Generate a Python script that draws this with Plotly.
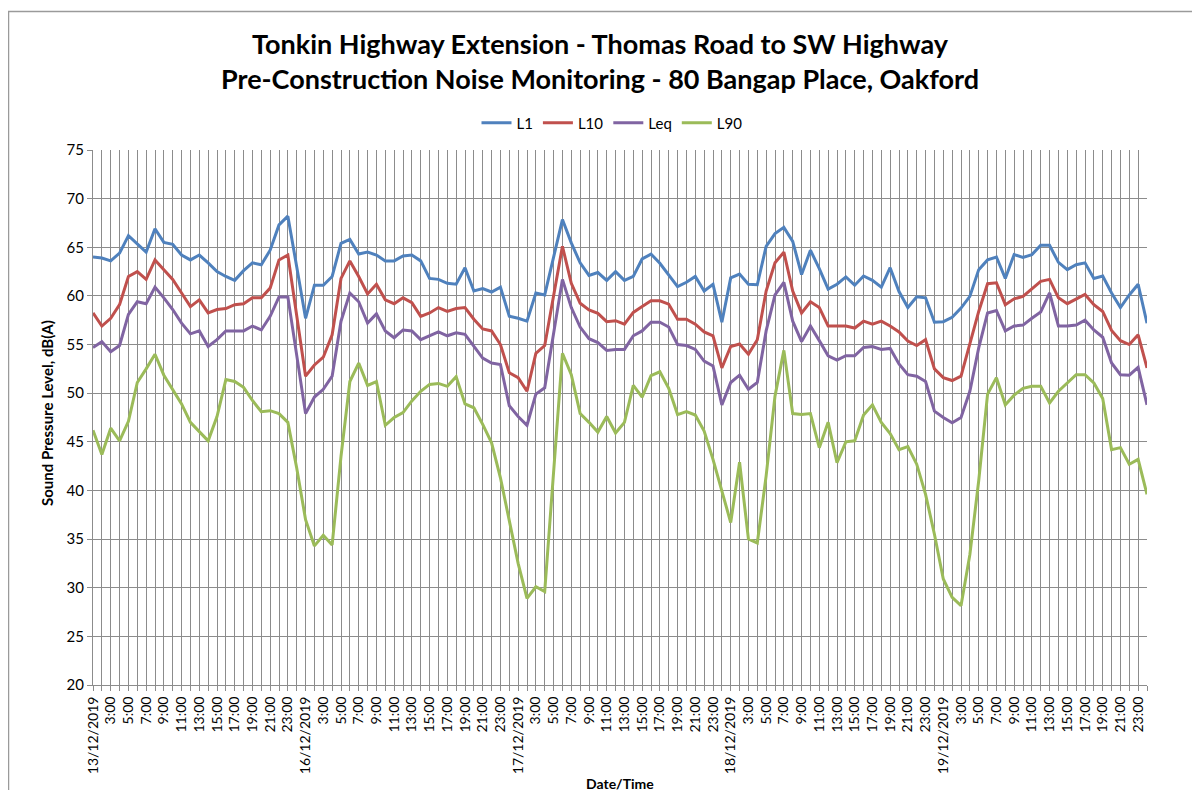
import plotly.graph_objects as go

DAYS = ["13/12/2019", "16/12/2019", "17/12/2019", "18/12/2019", "19/12/2019"]
HOURS = [f"{h}:00" for h in range(1, 24)] + ["0:00"]

L1 = [64.0, 63.9, 63.6, 64.4, 66.2, 65.4, 64.5, 66.9, 65.5, 65.3,
      64.2, 63.7, 64.2, 63.4, 62.5, 62.0, 61.6, 62.6, 63.4, 63.2,
      64.7, 67.3, 68.2, 63.0, 57.7, 61.1, 61.1, 62.0, 65.4, 65.8,
      64.3, 64.5, 64.2, 63.6, 63.6, 64.1, 64.2, 63.6, 61.8, 61.7,
      61.3, 61.2, 62.9, 60.5, 60.75, 60.4, 60.9, 57.9, 57.7, 57.4,
      60.3, 60.1, 64.1, 67.85, 65.45, 63.4, 62.1, 62.4, 61.6, 62.5,
      61.6, 62.0, 63.8, 64.3, 63.35, 62.1, 60.95, 61.4, 62.0, 60.5,
      61.2, 57.3, 61.85, 62.25, 61.2, 61.15, 65.1, 66.4, 67.05, 65.6,
      62.2, 64.7, 62.8, 60.7, 61.2, 61.95, 61.1, 62.05, 61.6, 60.9,
      62.9, 60.45, 58.8, 59.9, 59.8, 57.3, 57.35, 57.8, 58.75, 59.95,
      62.7, 63.7, 64.0, 61.8, 64.25, 63.95, 64.25, 65.2, 65.2, 63.45,
      62.7, 63.2, 63.4, 61.8, 62.05, 60.3, 58.8, 60.1, 61.2, 57.2]

L10 = [58.25, 56.9, 57.7, 59.1, 62.0, 62.5, 61.7, 63.7, 62.7, 61.7,
       60.3, 58.9, 59.6, 58.25, 58.6, 58.7, 59.1, 59.2, 59.8, 59.8,
       60.8, 63.7, 64.2, 58.0, 51.75, 52.9, 53.7, 56.0, 61.8, 63.6,
       62.0, 60.2, 61.2, 59.6, 59.2, 59.8, 59.3, 57.9, 58.25, 58.8,
       58.4, 58.7, 58.8, 57.6, 56.6, 56.4, 55.0, 52.1, 51.6, 50.2,
       54.1, 54.9, 59.8, 65.1, 61.3, 59.25, 58.55, 58.2, 57.35, 57.45,
       57.1, 58.3, 58.9, 59.5, 59.5, 59.15, 57.6, 57.6, 57.1, 56.3,
       55.9, 52.6, 54.8, 55.05, 54.0, 55.5, 60.5, 63.4, 64.5, 60.5,
       58.25, 59.4, 58.8, 56.9, 56.9, 56.9, 56.7, 57.4, 57.1, 57.4,
       56.9, 56.3, 55.35, 54.9, 55.5, 52.5, 51.6, 51.3, 51.75, 55.1,
       58.4, 61.25, 61.35, 59.1, 59.7, 59.95, 60.75, 61.5, 61.7, 59.8,
       59.2, 59.7, 60.15, 59.1, 58.4, 56.45, 55.4, 55.0, 56.0, 52.6]

LEQ = [54.7, 55.3, 54.25, 54.9, 58.1, 59.4, 59.2, 60.9, 59.8, 58.6,
       57.2, 56.1, 56.4, 54.8, 55.5, 56.4, 56.4, 56.4, 56.9, 56.5,
       57.9, 59.9, 59.9, 53.9, 47.9, 49.6, 50.4, 51.75, 57.4, 60.3,
       59.4, 57.2, 58.15, 56.4, 55.7, 56.5, 56.4, 55.5, 55.9, 56.3,
       55.9, 56.2, 56.05, 54.8, 53.6, 53.1, 52.95, 48.7, 47.6, 46.7,
       49.9, 50.55, 56.0, 61.7, 58.8, 56.8, 55.6, 55.2, 54.4, 54.5,
       54.5, 55.9, 56.4, 57.3, 57.3, 56.8, 55.0, 54.9, 54.5, 53.3,
       52.8, 48.8, 51.1, 51.85, 50.4, 51.1, 56.4, 60.1, 61.4, 57.4,
       55.3, 56.9, 55.4, 53.85, 53.4, 53.85, 53.85, 54.7, 54.8, 54.5,
       54.6, 53.0, 51.9, 51.75, 51.2, 48.15, 47.5, 46.95, 47.5, 50.2,
       54.65, 58.25, 58.5, 56.4, 56.9, 57.0, 57.7, 58.35, 60.3, 56.9,
       56.9, 57.0, 57.5, 56.5, 55.75, 53.1, 51.9, 51.85, 52.65, 48.8]

L90 = [46.2, 43.7, 46.4, 45.1, 47.1, 51.1, 52.5, 54.0, 51.85, 50.4,
       48.9, 47.0, 46.1, 45.1, 47.6, 51.4, 51.2, 50.6, 49.25, 48.1,
       48.2, 47.9, 47.0, 42.3, 37.0, 34.3, 35.4, 34.4, 43.5, 51.2,
       53.1, 50.8, 51.2, 46.7, 47.5, 48.0, 49.2, 50.2, 50.9, 51.0,
       50.7, 51.7, 48.9, 48.5, 46.8, 44.9, 41.3, 36.8, 32.5, 28.9,
       30.1, 29.6, 42.0, 54.1, 51.9, 47.9, 47.0, 46.0, 47.6, 45.9,
       47.0, 50.8, 49.6, 51.8, 52.2, 50.5, 47.8, 48.1, 47.75, 46.1,
       43.2, 39.8, 36.7, 42.9, 35.0, 34.6, 41.5, 49.7, 54.4, 47.9,
       47.8, 47.9, 44.4, 47.0, 42.85, 45.0, 45.1, 47.75, 48.8, 47.0,
       45.85, 44.2, 44.5, 42.7, 39.6, 35.5, 30.9, 29.0, 28.15, 33.4,
       41.0, 49.9, 51.6, 48.8, 49.8, 50.5, 50.7, 50.7, 49.0, 50.2,
       51.1, 51.9, 51.9, 51.05, 49.45, 44.2, 44.4, 42.7, 43.2, 39.6]

SERIES = [("L1", L1, "#4F81BD"), ("L10", L10, "#C0504D"),
          ("Leq", LEQ, "#8064A2"), ("L90", L90, "#9BBB59")]

# categories: one per hour; the first hour of each day is labelled with the date
CATS = [f"{d} {h}" for d in DAYS for h in HOURS]
TICKTEXT = []
for d in DAYS:
    for i, h in enumerate(HOURS):
        if i == 0:
            TICKTEXT.append(d)
        elif i % 2 == 0:
            TICKTEXT.append(h)
        else:
            TICKTEXT.append("")

FONT = "Lato, 'Open Sans', sans-serif"
GRID = "#8c8c8c"

fig = go.Figure()
for name, vals, col in SERIES:
    fig.add_trace(go.Scatter(x=CATS, y=vals, name=name, mode="lines",
                             line=dict(color=col, width=3)))

OFF = 8  # page offset of the figure inside the browser window
L, R, T, B = 93 - OFF, 1147 - OFF, 150 - OFF, 685 - OFF
W, H = 1200, 790
pw, ph = R - L, B - T

def px(x):
    return (x - OFF - L) / pw

def py(y):
    return (B - (y - OFF)) / ph

fig.update_layout(
    width=W, height=H,
    margin=dict(l=L, r=W - R, t=T, b=H - B, pad=0),
    paper_bgcolor="white", plot_bgcolor="white",
    font=dict(family=FONT, color="#000000", size=14),
    title=dict(text="<b>Tonkin Highway Extension - Thomas Road to SW Highway<br>"
                    "Pre-Construction Noise Monitoring - 80 Bangap Place, Oakford</b>",
               x=(600 - OFF) / W, xanchor="center", xref="container",
               y=1 - 46 / H, yanchor="top", yref="container",
               font=dict(size=27, family=FONT, color="#000000")),
    legend=dict(orientation="h", x=px(612), xanchor="center",
                y=py(123), yanchor="middle",
                font=dict(size=15, family=FONT), itemwidth=30,
                bgcolor="rgba(0,0,0,0)"),
    showlegend=True,
)

fig.update_xaxes(
    type="category", tickmode="array", tickvals=CATS, ticktext=TICKTEXT,
    tickangle=-90, tickfont=dict(size=14, family=FONT),
    range=[0, len(CATS) - 1],
    showgrid=True, gridcolor=GRID, gridwidth=1,
    ticks="outside", ticklen=5, tickcolor=GRID,
    showline=True, linecolor=GRID, linewidth=1, mirror=False,
    zeroline=False,
)
fig.update_yaxes(
    range=[20, 75], dtick=5, tick0=20,
    tickfont=dict(size=15, family=FONT),
    showgrid=True, gridcolor=GRID, gridwidth=1,
    ticks="outside", ticklen=5, tickcolor=GRID,
    showline=True, linecolor=GRID, linewidth=1,
    zeroline=False,
)

fig.add_annotation(text="<b>Sound Pressure Level, dB(A)</b>", textangle=-90,
                   xref="paper", yref="paper", x=px(47), y=py(413),
                   xanchor="center", yanchor="middle", showarrow=False,
                   font=dict(size=15, family=FONT))
fig.add_annotation(text="<b>Date/Time</b>",
                   xref="paper", yref="paper", x=px(620), y=py(783),
                   xanchor="center", yanchor="middle", showarrow=False,
                   font=dict(size=14, family=FONT))

# chart-area border
fig.add_shape(type="rect", xref="paper", yref="paper",
              x0=px(8.5), x1=px(1215), y0=py(810), y1=py(11.5),
              line=dict(color="#9a9a9a", width=1.5), layer="above")

fig.write_html("out.html")
